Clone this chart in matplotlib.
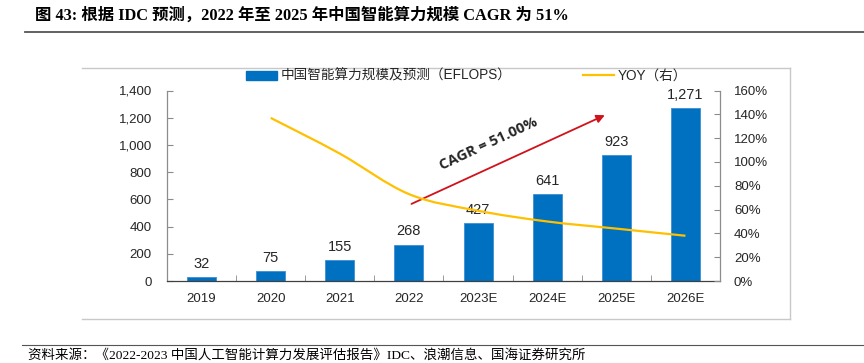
import matplotlib
matplotlib.use('Agg')
from matplotlib import pyplot as plt
from matplotlib.path import Path
from matplotlib.patches import PathPatch
from matplotlib.lines import Line2D
import numpy as np

years = ['2019', '2020', '2021', '2022', '2023E', '2024E', '2025E', '2026E']
compute = [32, 75, 155, 268, 427, 641, 923, 1271]
yoy_years = years[1:]
yoy = [137, 107, 73, 59, 50, 44, 38]

bar_label = '中国智能算力规模及预测（EFLOPS）'
line_label = 'YOY（右）'
title = '图 43: 根据 IDC 预测，2022 年至 2025 年中国智能算力规模 CAGR 为 51%'
source = '资料来源：《2022-2023 中国人工智能计算力发展评估报告》IDC、浪潮信息、国海证券研究所'

plt.rcParams['font.family'] = ['Liberation Sans', 'Noto Sans CJK SC', 'DejaVu Sans']
serif = ['Liberation Serif', 'Noto Sans CJK SC', 'DejaVu Sans']

blue = '#0070C0'
gold = '#FFC000'
red = '#D0121B'
txt = '#262626'
grey = '#8C8C8C'

fig = plt.figure(figsize=(8.64, 3.63), dpi=100)
ax = fig.add_axes([167 / 864, 1 - 281 / 363, (720 - 167) / 864, (281 - 90.5) / 363])
ax2 = ax.twinx()

x = np.arange(len(years))
bars = ax.bar(x, compute, width=0.42, color=blue, edgecolor='#3D8FD6', linewidth=0.6, zorder=2)
for xi, v in zip(x, compute):
    ax.text(xi, v + 45, f'{v:,}', ha='center', va='bottom', fontsize=10.5, color=txt)

ax.set_xlim(-0.5, len(years) - 0.5)
ax.set_ylim(0, 1400)
ax.set_yticks(range(0, 1401, 200))
ax.set_yticklabels([f'{v:,}' for v in range(0, 1401, 200)])
ax.set_xticks(x)
ax.set_xticklabels(years)
ax.set_xticks(np.arange(-0.5, len(years)), minor=True)
ax.tick_params(axis='x', which='major', length=0, pad=9, labelsize=9.5, colors=txt)
ax.tick_params(axis='x', which='minor', direction='in', length=4, color=grey)
ax.tick_params(axis='y', direction='in', length=4, color=grey, labelsize=9.5, labelcolor=txt, pad=11)

# smooth yoy line (bezier through the points, like excel smoothing)
xl = np.arange(1, len(years))
pts = np.column_stack([xl, yoy]).astype(float)
ext = np.vstack([pts[0], pts, pts[-1]])
verts = [tuple(pts[0])]
codes = [Path.MOVETO]
for i in range(len(pts) - 1):
    p0, p1, p2, p3 = ext[i], ext[i + 1], ext[i + 2], ext[i + 3]
    c1 = p1 + (p2 - p0) / 6
    c2 = p2 - (p3 - p1) / 6
    verts += [tuple(c1), tuple(c2), tuple(p2)]
    codes += [Path.CURVE4] * 3
ax2.add_patch(PathPatch(Path(verts, codes), facecolor='none', edgecolor=gold, lw=1.6, zorder=3))
ax2.set_ylim(0, 160)
ax2.set_yticks(range(0, 161, 20))
ax2.set_yticklabels([f'{v}%' for v in range(0, 161, 20)])
ax2.tick_params(axis='y', direction='in', length=4, color=grey, labelsize=9.5, labelcolor=txt, pad=10)

for a in (ax, ax2):
    a.spines['top'].set_visible(False)
    for s in ('left', 'right', 'bottom'):
        a.spines[s].set_color(grey)
        a.spines[s].set_linewidth(0.9)
ax.spines['right'].set_visible(False)
ax2.spines['left'].set_visible(False)
ax2.spines['bottom'].set_visible(False)
ax.spines['bottom'].set_color('#404040')

# CAGR arrow
ax.annotate('', xy=(5.87, 1227), xytext=(3.0, 558),
            arrowprops=dict(arrowstyle='-|>', color=red, lw=1.3, mutation_scale=12), zorder=4)
ax.text(4.15, 1010, 'CAGR = 51.00%', rotation=25, ha='center', va='center',
        fontsize=10.5, fontweight='bold', color=txt, family=['Open Sans', 'DejaVu Sans'])

# legend
handles = [plt.Rectangle((0, 0), 1, 1, color=blue), Line2D([], [], color=gold, lw=1.6)]
fig.legend(handles, [bar_label, line_label], loc='center', bbox_to_anchor=(0.54, 1 - 76 / 363),
           ncol=2, frameon=False, fontsize=9.8, handlelength=2.3, handleheight=0.6,
           handletextpad=0.3, columnspacing=5.2, labelcolor=txt)

# frame around chart
fr = dict(color='#C8C8C8', lw=1.0, transform=fig.transFigure)
fig.add_artist(Line2D([82 / 864, 790 / 864], [1 - 68 / 363, 1 - 68 / 363], **fr))
fig.add_artist(Line2D([82 / 864, 790 / 864], [1 - 319 / 363, 1 - 319 / 363], **fr))
fig.add_artist(Line2D([790 / 864, 790 / 864], [1 - 68 / 363, 1 - 319 / 363], **fr))

# title and source
fig.text(35 / 864, 1 - 15 / 363, title, ha='left', va='center', fontsize=11.8,
         fontweight='bold', family=serif, color='black')
fig.add_artist(Line2D([25 / 864, 1.0], [1 - 32 / 363, 1 - 32 / 363], color='#555555', lw=1.3,
                      transform=fig.transFigure))
fig.add_artist(Line2D([22 / 864, 1.0], [1 - 345 / 363, 1 - 345 / 363], color='#555555', lw=0.8,
                      transform=fig.transFigure))
fig.text(28 / 864, 1 - 355 / 363, source, ha='left', va='center', fontsize=9.7,
         family=serif, color='black')

fig.savefig('out.png', dpi=100)
